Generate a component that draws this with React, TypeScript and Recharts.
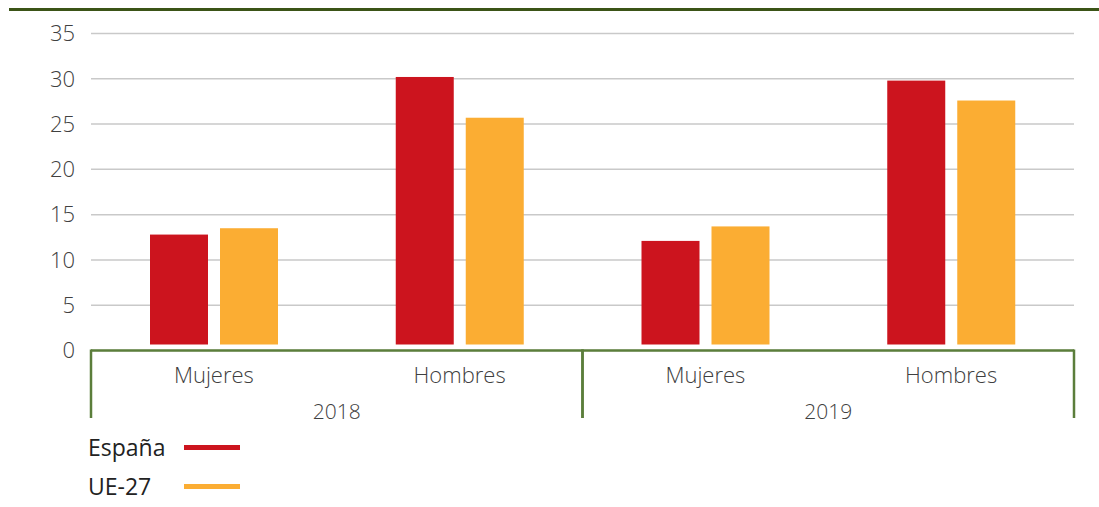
import { BarChart, Bar, XAxis, YAxis, CartesianGrid } from 'recharts'

const categories = ['Mujeres', 'Hombres', 'Mujeres', 'Hombres']
const years = ['2018', '2018', '2019', '2019']
const espana = [12.8, 30.2, 12.1, 29.8]
const ue27 = [13.5, 25.7, 13.7, 27.6]
const yTicks = [0, 5, 10, 15, 20, 25, 30, 35]

const W = 1099
const H = 507
const PLOT_LEFT = 91
const PLOT_RIGHT = 1074
const PLOT_TOP = 33.5
const PLOT_BOTTOM = 350.5
const AXIS1_H = 36
const AXIS2_H = 32
const GREEN = '#5b7e3b'
const FONT = '"Open Sans", Lato, sans-serif'
const TEXT = '#404040'

const data = categories.map((c, i) => ({
  sexo: c,
  year: years[i],
  espana: espana[i],
  ue27: ue27[i],
}))

// bars in the reference stop a few px above the axis line
function GapBar(props: any) {
  const { x, y, width, height, fill } = props
  const h = Math.max(0, height - 6)
  return <rect x={x} y={y} width={width} height={h} fill={fill} />
}

function YearTick(props: any) {
  const { x, payload } = props
  const half = (PLOT_RIGHT - PLOT_LEFT) / 4
  return (
    <g>
      <line x1={x - half} x2={x - half} y1={PLOT_BOTTOM - 1} y2={418} stroke={GREEN} strokeWidth={2.5} />
      <line x1={x + half} x2={x + half} y1={PLOT_BOTTOM - 1} y2={418} stroke={GREEN} strokeWidth={2.5} />
      <text x={x} y={413} textAnchor="middle" dominantBaseline="middle" fontSize={21} fontWeight={300} fill={TEXT} fontFamily={FONT}>
        {payload.value}
      </text>
    </g>
  )
}

const legendItems = [
  { name: 'España', color: '#cc141e' },
  { name: 'UE-27', color: '#fbad33' },
]

export default function App() {
  return (
    <div style={{ position: 'absolute', left: 0, top: 0, width: W, height: H, background: '#fff', fontFamily: FONT }}>
      <div style={{ position: 'absolute', left: 9, top: 8, width: W - 9, height: 3, background: '#3b5417' }} />
      <BarChart
        width={W}
        height={H}
        data={data}
        margin={{ top: PLOT_TOP, right: W - PLOT_RIGHT, left: 0, bottom: H - PLOT_BOTTOM - AXIS1_H - AXIS2_H }}
        barSize={58}
        barGap={12}
      >
        <CartesianGrid vertical={false} stroke="#c9c9c9" strokeWidth={1.5} />
        <YAxis
          domain={[0, 35]}
          ticks={yTicks}
          width={PLOT_LEFT}
          axisLine={false}
          tickLine={false}
          tickSize={0}
          tickMargin={16}
          tick={{ fontSize: 22, fontWeight: 300, fill: TEXT, fontFamily: FONT }}
        />
        <XAxis
          dataKey="sexo"
          height={AXIS1_H}
          axisLine={{ stroke: GREEN, strokeWidth: 2.5 }}
          tickLine={false}
          tickMargin={11}
          tick={{ fontSize: 22, fontWeight: 300, fill: TEXT, fontFamily: FONT }}
          interval={0}
        />
        <XAxis
          xAxisId="year"
          dataKey="year"
          allowDuplicatedCategory={false}
          height={AXIS2_H}
          axisLine={false}
          tickLine={false}
          tick={<YearTick />}
          interval={0}
        />
        <Bar dataKey="espana" fill="#cc141e" shape={<GapBar />} isAnimationActive={false} />
        <Bar dataKey="ue27" fill="#fbad33" shape={<GapBar />} isAnimationActive={false} />
      </BarChart>
      {legendItems.map((it, i) => (
        <div
          key={it.name}
          style={{ position: 'absolute', left: 88, top: 433 + i * 39, height: 28, display: 'flex', alignItems: 'center', fontSize: 23, color: '#222' }}
        >
          <span style={{ width: 96 }}>{it.name}</span>
          <span style={{ width: 56, height: 5, background: it.color }} />
        </div>
      ))}
    </div>
  )
}
